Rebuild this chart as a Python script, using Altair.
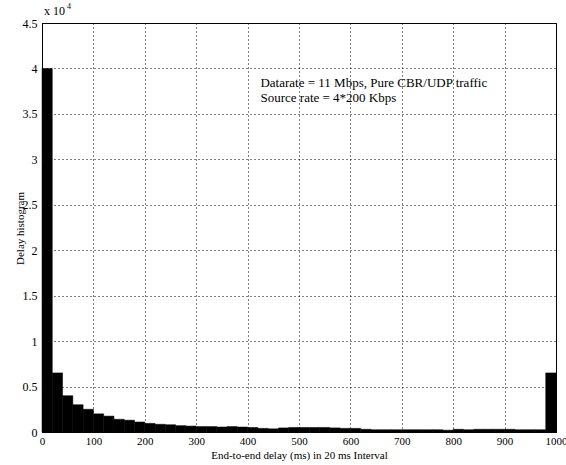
import altair as alt
import pandas as pd

# histogram counts in units of 10^4, 20 ms bins from 0 to 1000 ms
bin_starts = list(range(0, 1000, 20))
counts = [4.0, 0.65, 0.40, 0.30, 0.25, 0.20, 0.175, 0.14, 0.13, 0.11,
          0.095, 0.085, 0.08, 0.07, 0.065, 0.06, 0.06, 0.055, 0.06, 0.055,
          0.05, 0.04, 0.035, 0.045, 0.05, 0.05, 0.05, 0.05, 0.045, 0.04,
          0.04, 0.03, 0.025, 0.025, 0.025, 0.025, 0.025, 0.025, 0.025, 0.02,
          0.03, 0.025, 0.03, 0.03, 0.03, 0.03, 0.025, 0.025, 0.025, 0.65]
bin_width = 20

x_ticks = [0, 100, 200, 300, 400, 500, 600, 700, 800, 900, 1000]
y_ticks = [0, 0.5, 1, 1.5, 2, 2.5, 3, 3.5, 4, 4.5]

notes = ["Datarate = 11 Mbps, Pure CBR/UDP traffic", "Source rate = 4*200 Kbps"]
note_x = [425, 425]
note_y = [3.8, 3.63]

FONT = "Liberation Serif"

df = pd.DataFrame({"start": bin_starts, "count": counts})
df["end"] = df["start"] + bin_width

bars = alt.Chart(df).mark_rect(color="black", stroke="black", strokeWidth=0.5).encode(
    x=alt.X("start:Q",
            scale=alt.Scale(domain=[0, 1000], nice=False, zero=True),
            axis=alt.Axis(values=x_ticks, format="d", title="End-to-end delay (ms) in 20 ms Interval",
                          grid=True, gridDash=[1, 3], gridColor="black", gridOpacity=1,
                          ticks=False, labelPadding=3, titlePadding=3,
                          labelFont=FONT, titleFont=FONT, labelFontSize=11, titleFontSize=11,
                          titleFontWeight="normal", labelColor="black", titleColor="black",
                          domainColor="black", labelFlush=False)),
    x2="end:Q",
    y=alt.Y("count:Q",
            scale=alt.Scale(domain=[0, 4.5], nice=False),
            axis=alt.Axis(values=y_ticks, format="~g", title="Delay histogram",
                          grid=True, gridDash=[1, 3], gridColor="black", gridOpacity=1,
                          ticks=False, labelPadding=5,
                          titleX=-17, titleY=205, titleAlign="center", titleBaseline="bottom",
                          labelFont=FONT, titleFont=FONT, labelFontSize=12, titleFontSize=11,
                          titleFontWeight="normal", labelColor="black", titleColor="black",
                          domainColor="black")),
    y2=alt.datum(0),
)

notes_df = pd.DataFrame({"text": notes, "x": note_x, "y": note_y})
note_marks = alt.Chart(notes_df).mark_text(
    align="left", baseline="alphabetic", font=FONT, fontSize=13, color="black"
).encode(x="x:Q", y="y:Q", text="text:N")

exp_main = alt.Chart(pd.DataFrame({"t": ["x 10"]})).mark_text(
    align="left", baseline="alphabetic", font=FONT, fontSize=12, color="black"
).encode(x=alt.value(2), y=alt.value(-8), text="t:N")
exp_sup = alt.Chart(pd.DataFrame({"t": ["4"]})).mark_text(
    align="left", baseline="alphabetic", font=FONT, fontSize=8, color="black"
).encode(x=alt.value(25), y=alt.value(-14), text="t:N")

chart = alt.layer(bars, note_marks, exp_main, exp_sup).properties(
    width=514, height=409,
    autosize=alt.AutoSizeParams(type="none"),
    padding={"left": 42, "top": 23, "right": 10, "bottom": 33},
    background="white",
).configure_view(stroke="black", strokeWidth=1)

chart.save("out.html", embed_options={"renderer": "svg", "actions": False})
